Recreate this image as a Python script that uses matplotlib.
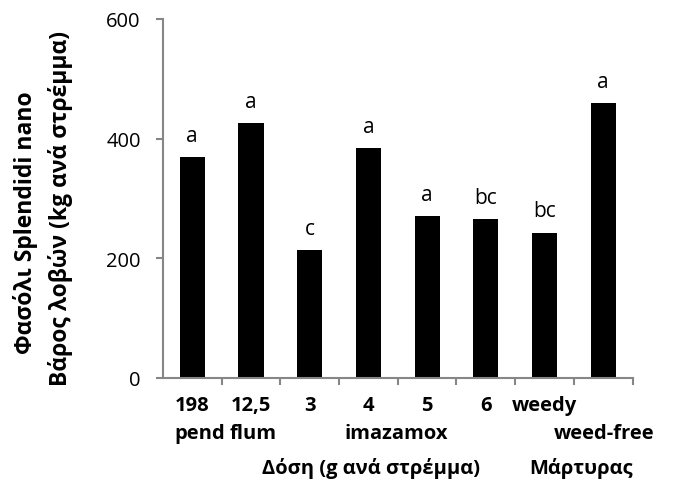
import matplotlib
matplotlib.use("Agg")
import matplotlib.pyplot as plt
from matplotlib.transforms import blended_transform_factory
import numpy as np

categories = ["198", "12,5", "3", "4", "5", "6", "weedy", ""]
values = [369, 426, 214, 384, 271, 265, 243, 460]
letters = ["a", "a", "c", "a", "a", "bc", "bc", "a"]
herbicide_labels = ["pend", "flum", "imazamox", "weed-free"]
ylabel_lines = ["Φασόλι Splendidi nano", "Βάρος λοβών (kg ανά στρέμμα)"]
group_labels = ["Δόση (g ανά στρέμμα)", "Μάρτυρας"]
yticks = [0, 200, 400, 600]

plt.rcParams["font.family"] = ["Open Sans", "DejaVu Sans"]
fig = plt.figure(figsize=(6.96, 4.85), dpi=100)
ax = fig.add_axes([0.234, 0.2186, 0.675, 0.7402])

x = np.arange(len(values))
ax.bar(x, values, width=0.43, color="black")
ax.set_xlim(-0.5, len(values) - 0.5)
ax.set_ylim(0, 600)
ax.set_yticks(yticks)
ax.set_yticklabels([str(t) for t in yticks], fontsize=14.5)

for xi, v, l in zip(x, values, letters):
    ax.annotate(l, (xi, v), xytext=(0, 8), textcoords="offset points",
                ha="center", va="bottom", fontsize=15)

gray = "#868686"
for s in ["top", "right"]:
    ax.spines[s].set_visible(False)
for s in ["left", "bottom"]:
    ax.spines[s].set_color(gray)
    ax.spines[s].set_linewidth(1.5)
ax.tick_params(axis="y", color=gray, width=1.5, length=5, direction="out", pad=11)
ax.set_xticks(np.arange(0.5, len(values), 1.0))
ax.set_xticklabels([])
ax.tick_params(axis="x", color=gray, width=1.5, length=5, direction="out")

fs = 14.5
tr = blended_transform_factory(ax.transData, fig.transFigure)
for xi, c in zip(x, categories):
    if c:
        ax.text(xi, 0.163, c, transform=tr, ha="center", va="center",
                fontsize=fs, fontweight="bold")
for pos, lab in zip([0.13, 1.03, 3.48, 7.02], herbicide_labels):
    ax.text(pos, 0.105, lab, transform=tr, ha="center", va="center",
            fontsize=fs, fontweight="bold")
for pos, lab in zip([3.05, 6.62], group_labels):
    ax.text(pos, 0.035, lab, transform=tr, ha="center", va="center",
            fontsize=fs, fontweight="bold")

fig.text(0.037, 0.54, ylabel_lines[0], rotation=90, ha="center", va="center",
         fontsize=16.5, fontweight="bold")
fig.text(0.087, 0.571, ylabel_lines[1], rotation=90, ha="center", va="center",
         fontsize=16.5, fontweight="bold")

fig.savefig("out.png", dpi=100)
